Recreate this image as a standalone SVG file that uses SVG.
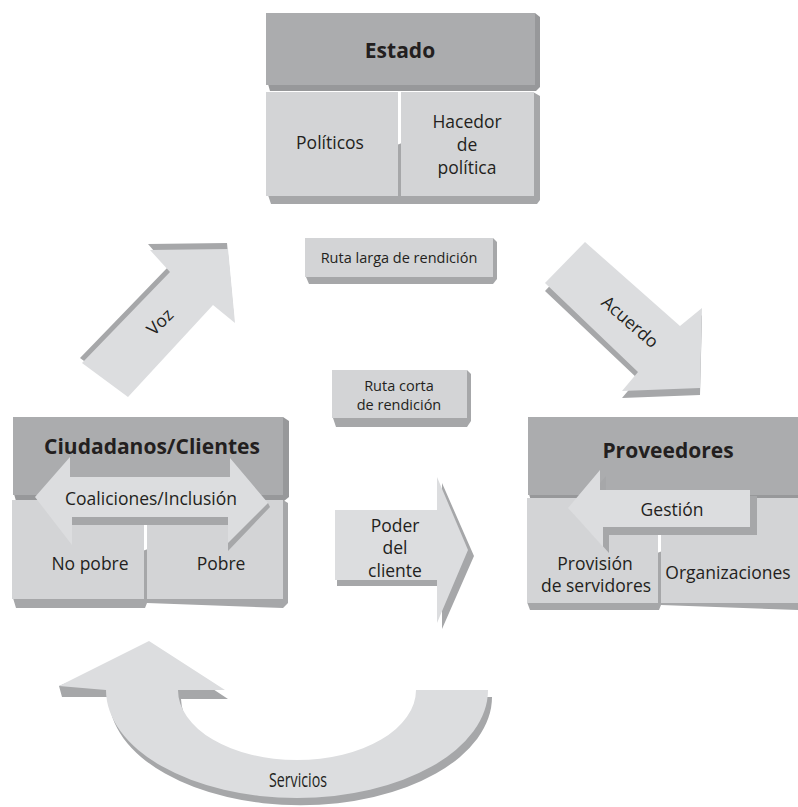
<svg xmlns="http://www.w3.org/2000/svg" width="798" height="807" viewBox="0 0 798 807">
<style>
.hdr{fill:#abacae}
.cell{fill:#d3d4d6}
.face{fill:#dcdddf}
.ext{fill:#97989a}
.ext2{fill:#a6a7a9}
text{font-family:"Open Sans","Noto Sans","Liberation Sans",sans-serif;fill:#231f20;text-anchor:middle}
.b{font-weight:bold;font-size:21px}
.r{font-size:17.5px}
.s{font-size:14.5px}
</style>
<rect width="798" height="807" fill="#ffffff"/>

<g id="estado">
  <polygon class="ext" points="268,84 270,91 536,91 540,87 540,17 535,13"/>
  <rect class="hdr" x="266" y="13" width="269" height="72"/>
  <polygon class="ext2" points="268,195 271,204 537,204 540,200 540,96 533,92"/>
  <rect class="cell" x="266" y="92" width="132" height="104"/>
  <rect class="cell" x="401" y="92" width="133" height="104"/>
  <text class="b" x="400" y="58">Estado</text>
  <text class="r" x="330" y="149">Políticos</text>
  <text class="r" x="467" y="128">Hacedor</text>
  <text class="r" x="467" y="151">de</text>
  <text class="r" x="467" y="174">política</text>
</g>

<g id="ruta-larga">
  <polygon class="ext2" points="306,277 309,284 493,284 497,279 497,242 493,238"/>
  <rect class="cell" x="305" y="238" width="188" height="39"/>
  <text class="s" x="399" y="263">Ruta larga de rendición</text>
</g>

<g id="ruta-corta">
  <polygon class="ext2" points="333,418 336,427 467,427 471,421 471,374 467,370"/>
  <rect class="cell" x="332" y="370" width="135" height="48"/>
  <text class="s" x="399" y="391">Ruta corta</text>
  <text class="s" x="399" y="410">de rendición</text>
</g>

<g id="ciudadanos">
  <polygon class="ext" points="14,494 16,501 284,501 289,497 289,421 283,417"/>
  <rect class="hdr" x="13" y="417" width="270" height="78"/>
  <polygon class="ext2" points="13,598 16,608 145,608 147,603 283,608 288,603 288,503 283,500"/>
  <rect class="cell" x="12" y="500" width="132" height="99"/>
  <rect class="cell" x="147" y="500" width="136" height="99"/>
  <text class="b" x="152" y="454">Ciudadanos/Clientes</text>
  <text class="r" x="90" y="570">No pobre</text>
  <text class="r" x="221" y="570">Pobre</text>
</g>

<g id="coaliciones">
  <polygon class="ext2" points="72,517 72,525 228,525 228,551 270,507 268,503"/>
  <polygon class="face" points="35,497 70,457 70,477 230,477 230,458 268,503 228,543 228,517 72,517 72,545"/>
  <text class="r" x="151" y="505">Coaliciones/Inclusión</text>
</g>

<g id="proveedores">
  <polygon class="ext" points="529,494 531,501 798,501 798,417"/>
  <rect class="hdr" x="528" y="417" width="270" height="78"/>
  <polygon class="ext2" points="527,602 530,610 659,610 661,605 798,610 798,500"/>
  <rect class="cell" x="527" y="498" width="131" height="105"/>
  <rect class="cell" x="661" y="498" width="137" height="105"/>
  <text class="b" x="668" y="458">Proveedores</text>
  <text class="r" x="595" y="570">Provisión</text>
  <text class="r" x="596" y="592">de servidores</text>
  <text class="r" x="728" y="579">Organizaciones</text>
</g>

<g id="gestion">
  <polygon class="ext2" points="574,514 606,476 606,496 757,496 757,535 609,535 609,553"/>
  <polygon class="face" points="568,508 600,470 600,490 750,490 750,527 603,527 603,547"/>
  <text class="r" x="672" y="516">Gestión</text>
</g>

<g id="connectors">
  <g id="voz">
    <polygon class="ext2" points="148,244 227,243 234,318 211,300 126,392 80,358 168,267"/>
    <polygon class="face" points="150,250 228,249 235,323 213,305 128,397 82,363 170,272"/>
    <text class="r" transform="translate(160,322) rotate(-45)" y="6">Voz</text>
  </g>
  <g id="acuerdo">
    <polygon class="ext2" points="585,249 680,333 702,315 700,395 622,398 638,379 545,291"/>
    <polygon class="face" points="585,242 680,326 702,308 700,388 622,391 638,372 545,283"/>
    <text class="r" transform="translate(630,322) rotate(41)" y="6">Acuerdo</text>
  </g>
  <g id="poder">
    <polygon class="ext2" points="337,516 442,516 442,483 474,556 442,629 442,586 337,586"/>
    <polygon class="face" points="335,510 437,510 437,477 468,550 437,623 437,580 335,580"/>
    <text class="r" x="395" y="532">Poder</text>
    <text class="r" x="395" y="554">del</text>
    <text class="r" x="395" y="577">cliente</text>
  </g>
  <g id="servicios">
    <path class="ext2" d="M151,648 L228,699 L181,699 A119 70 0 0 0 419 697 L492,697 A191 108 0 0 1 109 697 L62,697 L59,686 Z"/>
    <path class="face" d="M149,641 L225,690 L178,690 A119 70 0 0 0 416 690 L488,690 A191 108 0 0 1 106 690 L59,686 Z"/>
    <text x="298" y="787" textLength="58" lengthAdjust="spacingAndGlyphs" style="font-size:20px">Servicios</text>
  </g>
</g>
</svg>
